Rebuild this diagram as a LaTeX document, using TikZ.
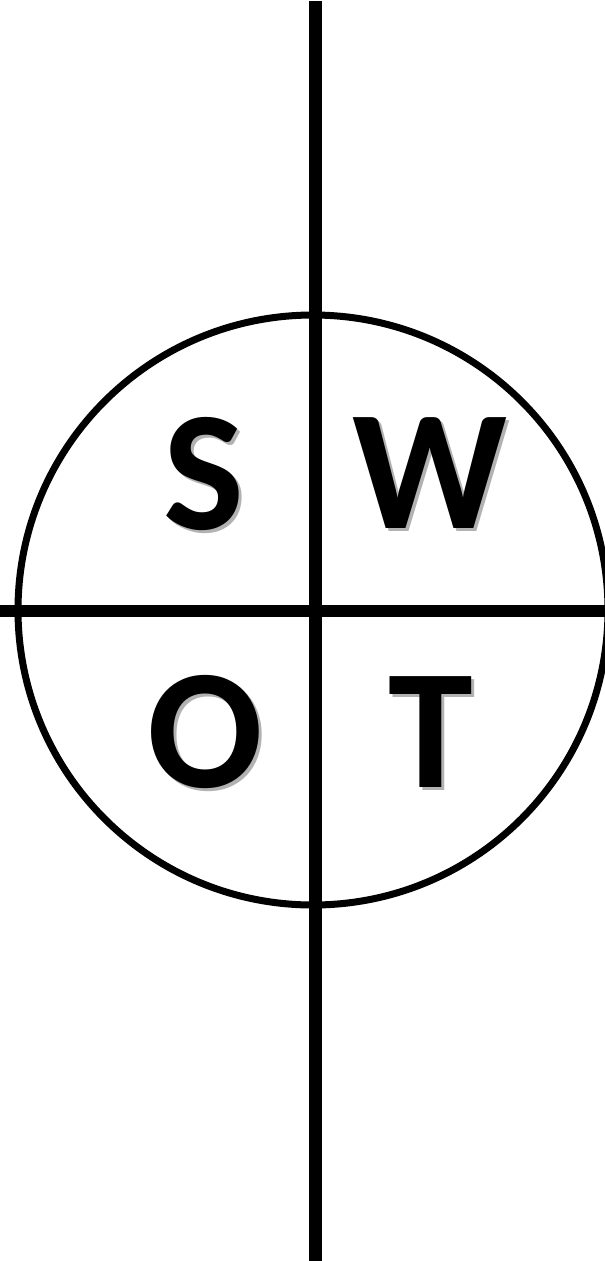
\documentclass[tikz,border=0pt]{standalone}
\usepackage{fontspec}
\setmainfont{Carlito}
\newcommand{\shadowed}[1]{\rlap{\kern3pt\raisebox{-3pt}{\color{black!30}#1}}#1}
\tikzset{
  axis/.style={line width=#1, black},
  ring/.style={line width=7pt, black},
  letter/.style={anchor=base, inner sep=0pt, font=\fontsize{171}{171}\selectfont\bfseries, text=black},
}
\begin{document}
\begin{tikzpicture}[x=1pt,y=-1pt]
  \useasboundingbox (0,0) rectangle (605,1261);
  \fill[white] (0,0) rectangle (605,1261);
  % circle
  \draw[ring] (313,610) circle (295);
  % axes
  \draw[axis=12pt] (0,611) -- (605,611);
  \draw[axis=13pt] (315.5,1) -- (315.5,1261);
  % letters
  \node[letter] (S) at (203.5,529.5) {\shadowed{S}};
  \node[letter] (W) at (430,528) {\shadowed{W}};
  \node[letter] (O) at (205,787.5) {\shadowed{O}};
  \node[letter] (T) at (430.5,787) {\shadowed{T}};
\end{tikzpicture}
\end{document}
